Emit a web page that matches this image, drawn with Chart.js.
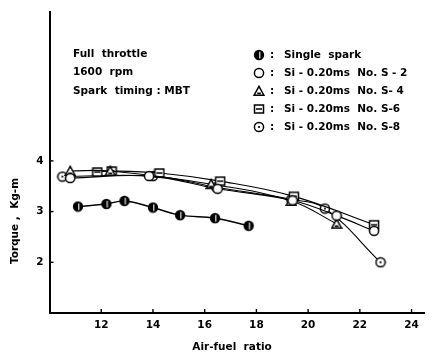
<!DOCTYPE html>
<html>
<head>
<meta charset="utf-8">
<script src="https://cdn.jsdelivr.net/npm/chart.js@4.4.1/dist/chart.umd.min.js"></script>
<style>
  html, body { margin: 0; padding: 0; background: #fff; overflow: hidden; }
  #wrap { width: 432px; height: 355px; }
  canvas { display: block; }
</style>
</head>
<body>
<div id="wrap"><canvas id="torqueChart" width="432" height="355"></canvas></div>
<script>
// Datos (relacion aire-combustible vs par)
const singleX = [11.1, 12.2, 12.9, 14.0, 15.05, 16.4, 17.7];
const singleY = [3.10, 3.15, 3.21, 3.08, 2.93, 2.87, 2.72];

const s2X = [10.8, 13.85, 16.5, 19.4, 21.1, 22.55];
const s2Y = [3.66, 3.70, 3.45, 3.22, 2.92, 2.62];

const s4X = [10.8, 12.35, 16.25, 19.35, 21.1];
const s4Y = [3.80, 3.80, 3.54, 3.21, 2.76];

const s6X = [11.85, 12.4, 14.25, 16.6, 19.45, 22.55];
const s6Y = [3.78, 3.80, 3.76, 3.60, 3.30, 2.74];

const s8X = [10.5, 14.0, 16.45, 19.35, 20.65, 22.8];
const s8Y = [3.69, 3.70, 3.48, 3.24, 3.06, 2.00];

const xTicks = [12, 14, 16, 18, 20, 22, 24];
const yTicks = [2, 3, 4];

const seriesLabels = [
    'Single  spark',
    'Si - 0.20ms  No. S - 2',
    'Si - 0.20ms  No. S- 4',
    'Si - 0.20ms  No. S-6',
    'Si - 0.20ms  No. S-8'
];
const infoLines = ['Full  throttle', '1600  rpm', 'Spark  timing : MBT'];

const FONT = '"DejaVu Sans", sans-serif';

// marcadores dibujados a mano
const makeMarker = (kind) => {
    const c = document.createElement('canvas');
    c.width = 12; c.height = 12;
    const g = c.getContext('2d');
    g.strokeStyle = '#000';
    g.fillStyle = '#000';
    g.lineWidth = 1.5;
    if (kind === 'half') {
        g.beginPath(); g.arc(6, 6, 5.2, 0, Math.PI * 2); g.fill();
        g.strokeStyle = '#fff'; g.lineWidth = 1.1;
        g.beginPath(); g.moveTo(6.8, 2.8); g.lineTo(6.8, 9.5); g.stroke();
    } else if (kind === 'dot') {
        g.fillStyle = '#fff';
        g.beginPath(); g.arc(6, 6, 4.6, 0, Math.PI * 2); g.fill(); g.stroke();
        g.fillStyle = '#000';
        g.beginPath(); g.arc(6, 6, 1.1, 0, Math.PI * 2); g.fill();
    } else if (kind === 'circle') {
        g.fillStyle = '#fff';
        g.beginPath(); g.arc(6, 6, 4.6, 0, Math.PI * 2); g.fill(); g.stroke();
    } else if (kind === 'triangle') {
        g.fillStyle = '#fff';
        g.beginPath(); g.moveTo(6, 1.3); g.lineTo(10.9, 10.2); g.lineTo(1.1, 10.2); g.closePath(); g.fill(); g.stroke();
        g.fillStyle = '#000';
        g.fillRect(4.2, 7.5, 3.6, 1.8);
    } else if (kind === 'square') {
        g.fillStyle = '#fff';
        g.fillRect(1.5, 2, 9, 8); g.strokeRect(1.5, 2, 9, 8);
        g.beginPath(); g.moveTo(3, 6); g.lineTo(9, 6); g.stroke();
    }
    return c;
};

const markers = {
    single: makeMarker('half'),
    s2: makeMarker('circle'),
    s4: makeMarker('triangle'),
    s6: makeMarker('square'),
    s8: makeMarker('dot')
};

const toPoints = (xs, ys) => xs.map((x, i) => ({ x: x, y: ys[i] }));

const makeSet = (label, xs, ys, marker, width) => ({
    label: label,
    data: toPoints(xs, ys),
    borderColor: '#000',
    borderWidth: width,
    pointStyle: marker,
    pointRadius: 6,
    tension: 0.4,
    showLine: true,
    fill: false
});

// plugin para ticks, etiquetas del eje x, textos y leyenda
const decorPlugin = {
    id: 'decor',
    afterDraw(chart) {
        const ctx = chart.ctx;
        const xs = chart.scales.x;
        const ys = chart.scales.y;
        const area = chart.chartArea;
        ctx.save();
        ctx.strokeStyle = '#000';
        ctx.fillStyle = '#000';
        ctx.lineWidth = 1.4;
        ctx.font = 'bold 10.5px ' + FONT;
        ctx.textBaseline = 'middle';
        ctx.textAlign = 'center';
        xTicks.forEach(v => {
            const px = xs.getPixelForValue(v);
            ctx.beginPath(); ctx.moveTo(px, area.bottom); ctx.lineTo(px, area.bottom - 4); ctx.stroke();
            ctx.fillText(String(v), px, area.bottom + 12);
        });
        yTicks.forEach(v => {
            const py = ys.getPixelForValue(v);
            ctx.beginPath(); ctx.moveTo(area.left, py); ctx.lineTo(area.left + 4, py); ctx.stroke();
        });

        ctx.textAlign = 'left';
        infoLines.forEach((t, i) => ctx.fillText(t, 73, 54 + i * 18.5));

        // leyenda
        const keys = ['single', 's2', 's4', 's6', 's8'];
        keys.forEach((k, i) => {
            const y = 55 + i * 18;
            ctx.drawImage(markers[k], 253, y - 6);
            ctx.fillText(':', 270, y);
            ctx.fillText(seriesLabels[i], 284, y);
        });

        // titulos de ejes
        ctx.textAlign = 'center';
        ctx.fillText('Air-fuel  ratio', 232, 347);
        ctx.translate(15, 221);
        ctx.rotate(-Math.PI / 2);
        ctx.fillText('Torque ,  Kg-m', 0, 0);
        ctx.restore();
    }
};

const ctx = document.getElementById('torqueChart').getContext('2d');
window.torqueChart = new Chart(ctx, {
    type: 'scatter',
    data: {
        datasets: [
            makeSet(seriesLabels[0], singleX, singleY, markers.single, 1.5),
            makeSet(seriesLabels[1], s2X, s2Y, markers.s2, 1.1),
            makeSet(seriesLabels[2], s4X, s4Y, markers.s4, 1.1),
            makeSet(seriesLabels[3], s6X, s6Y, markers.s6, 1.1),
            makeSet(seriesLabels[4], s8X, s8Y, markers.s8, 1.1)
        ]
    },
    options: {
        responsive: false,
        animation: false,
        layout: { padding: { top: 10, right: 2, left: 0, bottom: 0 } },
        plugins: {
            legend: { display: false },
            tooltip: { enabled: false }
        },
        scales: {
            x: {
                type: 'linear',
                min: 10,
                max: 24.5,
                afterBuildTicks: (scale) => { scale.ticks = xTicks.map(v => ({ value: v })); },
                afterFit: (scale) => { scale.height = 42; },
                grid: { display: false, drawTicks: false },
                border: { display: true, color: '#000', width: 2 },
                ticks: { display: false }
            },
            y: {
                type: 'linear',
                min: 1,
                max: 6.93,
                afterBuildTicks: (scale) => { scale.ticks = yTicks.map(v => ({ value: v })); },
                afterFit: (scale) => { scale.width = 49.5; },
                grid: { display: false, drawTicks: false },
                border: { display: true, color: '#000', width: 2 },
                ticks: {
                    color: '#000',
                    padding: 6,
                    font: { family: FONT, size: 10.5, weight: 'bold' }
                }
            }
        }
    },
    plugins: [decorPlugin]
});
</script>
</body>
</html>
